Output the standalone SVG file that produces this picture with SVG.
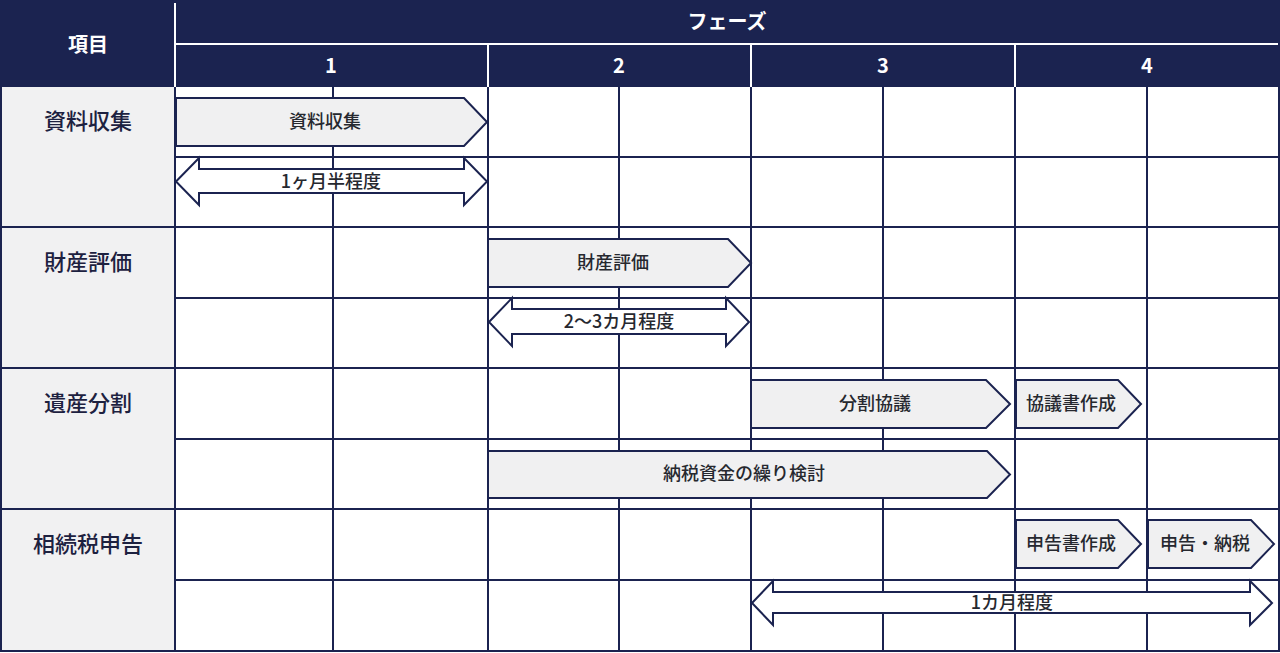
<svg xmlns="http://www.w3.org/2000/svg" width="1280" height="653" viewBox="0 0 1280 653">
<style>
text{font-family:"Noto Sans CJK JP","Noto Sans",sans-serif;dominant-baseline:central;text-anchor:middle}
.hd{fill:#ffffff;font-weight:700;font-size:20px}
.lb{fill:#1d2140;font-weight:500;font-size:22px}
.sl{fill:#26282f;font-weight:500;font-size:18px}
.dl{fill:#26282f;font-weight:500;font-size:18px}
.gl{stroke:#1b2350;stroke-width:2;fill:none}
.wl{stroke:#ffffff;stroke-width:2;fill:none}
.pent{fill:#f0f0f1;stroke:#1b2350;stroke-width:2;stroke-linejoin:miter}
.dbl{fill:#ffffff;stroke:#1b2350;stroke-width:2;stroke-linejoin:miter}
</style>
<rect x="0" y="0" width="1280" height="653" fill="#ffffff"/>
<g id="header">
<rect x="1" y="1" width="1278" height="86" fill="#1b2350"/>
<path class="wl" d="M175,3V87 M175,44H1278 M488,44V87 M751,44V87 M1015,44V87"/>
<text class="hd" x="88" y="43">項目</text>
<text class="hd" x="727" y="20">フェーズ</text>
<text class="hd" x="331" y="64">1</text>
<text class="hd" x="619" y="64">2</text>
<text class="hd" x="883" y="64">3</text>
<text class="hd" x="1147" y="64">4</text>
</g>
<g id="grid">
<rect x="1" y="87" width="174" height="564" fill="#f1f1f2"/>
<path class="gl" d="M1,227H1279 M1,368H1279 M1,509H1279 M175,157H1279 M175,298H1279 M175,439H1279 M175,580H1279"/>
<path class="gl" d="M175,87V651 M333,87V651 M488,87V651 M619,87V651 M751,87V651 M883,87V651 M1015,87V651 M1147,87V651"/>
<rect class="gl" x="1" y="1" width="1278" height="650"/>
</g>
<g id="row-labels">
<text class="lb" x="88" y="119">資料収集</text>
<text class="lb" x="88" y="260">財産評価</text>
<text class="lb" x="88" y="401">遺産分割</text>
<text class="lb" x="88" y="542">相続税申告</text>
</g>
<g id="connectors">
<g id="span-1">
<polygon class="dbl" points="176,181.5 199,158 199,169 464,169 464,158 487,181.5 464,205 464,193 199,193 199,205"/>
<text class="dl" x="331" y="180">1ヶ月半程度</text>
</g>
<g id="span-2">
<polygon class="dbl" points="489,322 512,298 512,309 726,309 726,298 749,322 726,346 726,334 512,334 512,346"/>
<text class="dl" x="619" y="320">2〜3カ月程度</text>
</g>
<g id="span-3">
<polygon class="dbl" points="752,603 773,581 773,592 1250,592 1250,581 1272,603 1250,625 1250,613 773,613 773,625"/>
<text class="dl" x="1012" y="601">1カ月程度</text>
</g>
</g>
<g id="task-shiryou">
<polygon class="pent" points="176,98 464,98 487,122 464,146 176,146"/>
<text class="sl" x="325" y="120">資料収集</text>
</g>
<g id="task-zaisan">
<polygon class="pent" points="488,239 728,239 751,263 728,287 488,287"/>
<text class="sl" x="613" y="261">財産評価</text>
</g>
<g id="task-bunkatsu">
<polygon class="pent" points="751,380 986,380 1010,404 986,428 751,428"/>
<text class="sl" x="875" y="402">分割協議</text>
</g>
<g id="task-kyougisho">
<polygon class="pent" points="1016,380 1118,380 1141,404 1118,428 1016,428"/>
<text class="sl" x="1071" y="402">協議書作成</text>
</g>
<g id="task-nouzei-shikin">
<polygon class="pent" points="488,451 987,451 1010,474.5 987,498 488,498"/>
<text class="sl" x="744" y="472">納税資金の繰り検討</text>
</g>
<g id="task-shinkokusho">
<polygon class="pent" points="1016,520 1118,520 1141,544 1118,568 1016,568"/>
<text class="sl" x="1071" y="542">申告書作成</text>
</g>
<g id="task-shinkoku-nouzei">
<polygon class="pent" points="1148,520 1251,520 1274,544 1251,568 1148,568"/>
<text class="sl" x="1205" y="542">申告・納税</text>
</g>
</svg>
